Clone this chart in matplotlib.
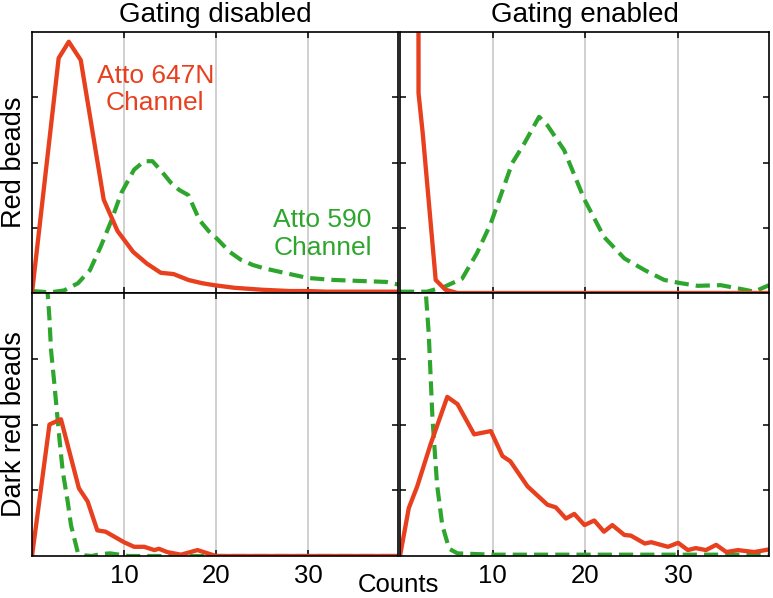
import matplotlib
matplotlib.use("Agg")
import matplotlib.pyplot as plt

plt.rcParams['font.family'] = ['Liberation Sans', 'DejaVu Sans']

# ---------------- data (normalised histogram heights, y range 0-4) ----------------
# Gating disabled, red beads
tl_red_x = [0, 2.9, 4.0, 5.3, 7.8, 9.3, 11, 12.5, 14, 15.4, 17, 18.5, 19.8, 22, 25, 28, 30, 32, 35, 39.8]
tl_red_y = [0, 3.6, 3.85, 3.57, 1.43, 0.95, 0.63, 0.45, 0.31, 0.29, 0.2, 0.15, 0.12, 0.08, 0.05, 0.03, 0.03, 0.02, 0.02, 0.02]
tl_grn_x = [0, 2, 3.5, 5, 6.3, 7.5, 8.6, 9.7, 11.1, 12.2, 13.1, 14, 15.1, 16, 17, 18.2, 19.2, 20.2,
            21.5, 22.7, 24, 25.2, 27.4, 30, 32.8, 36.5, 38.5, 39.8]
tl_grn_y = [0.03, 0.01, 0.04, 0.15, 0.35, 0.72, 1.1, 1.53, 1.89, 2.02, 2.02, 1.88, 1.69, 1.58, 1.5, 1.12, 0.95,
            0.82, 0.63, 0.51, 0.43, 0.38, 0.31, 0.23, 0.2, 0.18, 0.17, 0.13]

# Gating enabled, red beads
tr_red_x = [1.85, 2.0, 2.45, 3.85, 4.9, 6.2, 39.8]
tr_red_y = [30, 3.06, 2.45, 0.2, 0.05, 0.0, 0.0]
tr_grn_x = [0, 2.9, 4.7, 6.7, 8.3, 9.8, 10.7, 12.1, 13.4, 15.0, 15.9, 17.7, 19.9, 22.0, 24.2, 26.4,
            28.5, 30.3, 32.1, 34.6, 37.2, 38.2, 39.8]
tr_grn_y = [0.02, 0.02, 0.09, 0.22, 0.61, 1.07, 1.43, 1.99, 2.29, 2.7, 2.57, 2.19, 1.43, 0.86, 0.53, 0.35,
            0.2, 0.15, 0.11, 0.12, 0.05, 0.02, 0.12]

# Gating disabled, dark red beads
bl_red_x = [0, 1.9, 3.15, 5.1, 6.05, 7.1, 8.0, 10, 11.1, 12.2, 13.3, 13.8, 14.7, 16.2, 18, 20, 39.8]
bl_red_y = [0, 2.0, 2.08, 1.03, 0.83, 0.39, 0.37, 0.21, 0.14, 0.14, 0.09, 0.11, 0.06, 0.02, 0.09, 0.0, 0.0]
bl_grn_x = [1.2, 1.7, 1.88, 2.07, 2.43, 2.97, 3.34, 3.88, 4.24, 4.97, 5.7, 6.5, 7.5, 8.5, 9.5, 10.5, 39.8]
bl_grn_y = [8, 4.0, 3.65, 3.13, 2.62, 1.8, 1.29, 0.83, 0.47, 0.06, 0.01, 0.0, 0.03, 0.04, 0.02, 0.0, 0.0]

# Gating enabled, dark red beads
br_red_x = [0, 0.95, 1.86, 3.3, 5.1, 6.2, 8.0, 9.8, 11.05, 11.9, 13.75, 15.9, 16.8, 17.9, 18.8, 19.9,
            20.95, 22.0, 22.9, 24.2, 24.9, 26.4, 27.1, 28.9, 30.0, 31.05, 31.9, 33.0, 34.1, 35.2, 36.45, 38.2, 39.8]
br_red_y = [0, 0.73, 1.06, 1.7, 2.42, 2.31, 1.85, 1.9, 1.52, 1.44, 1.06, 0.78, 0.74, 0.57, 0.64, 0.47,
            0.54, 0.37, 0.47, 0.32, 0.31, 0.19, 0.21, 0.14, 0.2, 0.09, 0.12, 0.09, 0.17, 0.06, 0.09, 0.06, 0.1]
br_grn_x = [2.4, 2.76, 3.1, 3.5, 4.0, 4.56, 5.3, 6.2, 10, 39.8]
br_grn_y = [9, 4.05, 3.38, 2.1, 1.08, 0.47, 0.11, 0.04, 0.02, 0.02]

col_titles = ["Gating disabled", "Gating enabled"]
row_labels = ["Red beads", "Dark red beads"]
x_ticks = [10, 20, 30]
y_ticks = [1, 2, 3]
xlabel = "Counts"

RED = '#E8401E'
GREEN = '#2EA62E'

fig = plt.figure(figsize=(7.73, 5.98), dpi=100)

W, H = 773, 598
def rect(x0, y0, x1, y1):
    return [x0 / W, 1 - y1 / H, (x1 - x0) / W, (y1 - y0) / H]

axes = [[fig.add_axes(rect(32, 32, 398, 293)), fig.add_axes(rect(400, 32, 769, 293))],
        [fig.add_axes(rect(32, 293, 398, 556)), fig.add_axes(rect(400, 293, 769, 556))]]

series = [[(tl_red_x, tl_red_y, tl_grn_x, tl_grn_y), (tr_red_x, tr_red_y, tr_grn_x, tr_grn_y)],
          [(bl_red_x, bl_red_y, bl_grn_x, bl_grn_y), (br_red_x, br_red_y, br_grn_x, br_grn_y)]]

for r in range(2):
    for c in range(2):
        ax = axes[r][c]
        rx, ry, gx, gy = series[r][c]
        ax.set_xlim(0, 39.8)
        ax.set_ylim(0, 4)
        for xv in x_ticks:
            ax.axvline(xv, color='#c4c4c4', lw=1.1, zorder=1)
        ax.plot(gx, gy, color=GREEN, lw=3.0, dashes=(3.4, 1.7), zorder=3)
        ax.plot(rx, ry, color=RED, lw=3.1, zorder=4)
        ax.set_xticks(x_ticks)
        ax.set_yticks(y_ticks)
        ax.tick_params(direction='in', length=4, width=1.1, top=True, right=True,
                       labelsize=18.5, pad=6, labelleft=False)
        if r == 0:
            ax.tick_params(labelbottom=False)
            ax.set_title(col_titles[c], fontsize=20, pad=7)
        for s in ax.spines.values():
            s.set_linewidth(1.2)
            s.set_zorder(5)

# row labels
fig.text(14 / W, 1 - 162 / H, row_labels[0], rotation=90, ha='center', va='center', fontsize=19.5)
fig.text(14 / W, 1 - 424 / H, row_labels[1], rotation=90, ha='center', va='center', fontsize=19.5)
fig.text(398 / W, 1 - 585 / H, xlabel, ha='center', va='center', fontsize=18.5)

# channel annotations
axes[0][0].text(13.4, 3.12, "Atto 647N\nChannel", color=RED, fontsize=19, ha='center', va='center',
                linespacing=1.2)
axes[0][0].text(31.6, 0.9, "Atto 590\nChannel", color=GREEN, fontsize=19, ha='center', va='center',
                linespacing=1.2)

fig.savefig("out.png", dpi=100)
